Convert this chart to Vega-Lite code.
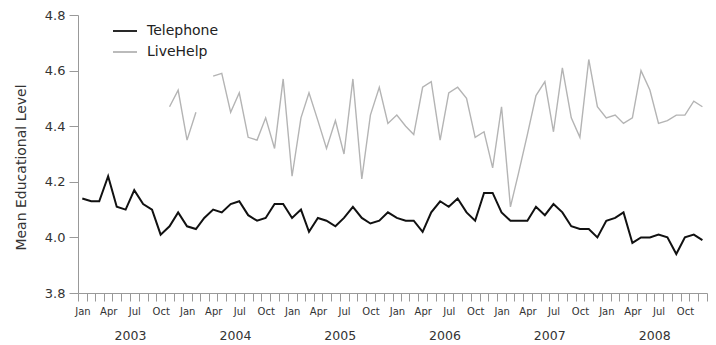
{
  "$schema": "https://vega.github.io/schema/vega-lite/v6.json",
  "width": 629,
  "height": 278,
  "autosize": "none",
  "padding": {"left": 78, "top": 15, "right": 9, "bottom": 52},
  "background": "white",
  "config": {
    "view": {"stroke": null},
    "font": "DejaVu Sans",
    "axis": {
      "grid": false,
      "domainColor": "#999999",
      "tickColor": "#999999",
      "labelColor": "#333333",
      "titleColor": "#333333",
      "labelFont": "DejaVu Sans",
      "titleFont": "DejaVu Sans"
    },
    "legend": {"labelFont": "DejaVu Sans"}
  },
  "datasets": {
    "series": [
      {"month": "2003-01-16", "mode": "Telephone", "value": 4.14},
      {"month": "2003-02-16", "mode": "Telephone", "value": 4.13},
      {"month": "2003-03-16", "mode": "Telephone", "value": 4.13},
      {"month": "2003-04-16", "mode": "Telephone", "value": 4.22},
      {"month": "2003-05-16", "mode": "Telephone", "value": 4.11},
      {"month": "2003-06-16", "mode": "Telephone", "value": 4.10},
      {"month": "2003-07-16", "mode": "Telephone", "value": 4.17},
      {"month": "2003-08-16", "mode": "Telephone", "value": 4.12},
      {"month": "2003-09-16", "mode": "Telephone", "value": 4.10},
      {"month": "2003-10-16", "mode": "Telephone", "value": 4.01},
      {"month": "2003-11-16", "mode": "Telephone", "value": 4.04},
      {"month": "2003-12-16", "mode": "Telephone", "value": 4.09},
      {"month": "2004-01-16", "mode": "Telephone", "value": 4.04},
      {"month": "2004-02-16", "mode": "Telephone", "value": 4.03},
      {"month": "2004-03-16", "mode": "Telephone", "value": 4.07},
      {"month": "2004-04-16", "mode": "Telephone", "value": 4.10},
      {"month": "2004-05-16", "mode": "Telephone", "value": 4.09},
      {"month": "2004-06-16", "mode": "Telephone", "value": 4.12},
      {"month": "2004-07-16", "mode": "Telephone", "value": 4.13},
      {"month": "2004-08-16", "mode": "Telephone", "value": 4.08},
      {"month": "2004-09-16", "mode": "Telephone", "value": 4.06},
      {"month": "2004-10-16", "mode": "Telephone", "value": 4.07},
      {"month": "2004-11-16", "mode": "Telephone", "value": 4.12},
      {"month": "2004-12-16", "mode": "Telephone", "value": 4.12},
      {"month": "2005-01-16", "mode": "Telephone", "value": 4.07},
      {"month": "2005-02-16", "mode": "Telephone", "value": 4.10},
      {"month": "2005-03-16", "mode": "Telephone", "value": 4.02},
      {"month": "2005-04-16", "mode": "Telephone", "value": 4.07},
      {"month": "2005-05-16", "mode": "Telephone", "value": 4.06},
      {"month": "2005-06-16", "mode": "Telephone", "value": 4.04},
      {"month": "2005-07-16", "mode": "Telephone", "value": 4.07},
      {"month": "2005-08-16", "mode": "Telephone", "value": 4.11},
      {"month": "2005-09-16", "mode": "Telephone", "value": 4.07},
      {"month": "2005-10-16", "mode": "Telephone", "value": 4.05},
      {"month": "2005-11-16", "mode": "Telephone", "value": 4.06},
      {"month": "2005-12-16", "mode": "Telephone", "value": 4.09},
      {"month": "2006-01-16", "mode": "Telephone", "value": 4.07},
      {"month": "2006-02-16", "mode": "Telephone", "value": 4.06},
      {"month": "2006-03-16", "mode": "Telephone", "value": 4.06},
      {"month": "2006-04-16", "mode": "Telephone", "value": 4.02},
      {"month": "2006-05-16", "mode": "Telephone", "value": 4.09},
      {"month": "2006-06-16", "mode": "Telephone", "value": 4.13},
      {"month": "2006-07-16", "mode": "Telephone", "value": 4.11},
      {"month": "2006-08-16", "mode": "Telephone", "value": 4.14},
      {"month": "2006-09-16", "mode": "Telephone", "value": 4.09},
      {"month": "2006-10-16", "mode": "Telephone", "value": 4.06},
      {"month": "2006-11-16", "mode": "Telephone", "value": 4.16},
      {"month": "2006-12-16", "mode": "Telephone", "value": 4.16},
      {"month": "2007-01-16", "mode": "Telephone", "value": 4.09},
      {"month": "2007-02-16", "mode": "Telephone", "value": 4.06},
      {"month": "2007-03-16", "mode": "Telephone", "value": 4.06},
      {"month": "2007-04-16", "mode": "Telephone", "value": 4.06},
      {"month": "2007-05-16", "mode": "Telephone", "value": 4.11},
      {"month": "2007-06-16", "mode": "Telephone", "value": 4.08},
      {"month": "2007-07-16", "mode": "Telephone", "value": 4.12},
      {"month": "2007-08-16", "mode": "Telephone", "value": 4.09},
      {"month": "2007-09-16", "mode": "Telephone", "value": 4.04},
      {"month": "2007-10-16", "mode": "Telephone", "value": 4.03},
      {"month": "2007-11-16", "mode": "Telephone", "value": 4.03},
      {"month": "2007-12-16", "mode": "Telephone", "value": 4.00},
      {"month": "2008-01-16", "mode": "Telephone", "value": 4.06},
      {"month": "2008-02-16", "mode": "Telephone", "value": 4.07},
      {"month": "2008-03-16", "mode": "Telephone", "value": 4.09},
      {"month": "2008-04-16", "mode": "Telephone", "value": 3.98},
      {"month": "2008-05-16", "mode": "Telephone", "value": 4.00},
      {"month": "2008-06-16", "mode": "Telephone", "value": 4.00},
      {"month": "2008-07-16", "mode": "Telephone", "value": 4.01},
      {"month": "2008-08-16", "mode": "Telephone", "value": 4.00},
      {"month": "2008-09-16", "mode": "Telephone", "value": 3.94},
      {"month": "2008-10-16", "mode": "Telephone", "value": 4.00},
      {"month": "2008-11-16", "mode": "Telephone", "value": 4.01},
      {"month": "2008-12-16", "mode": "Telephone", "value": 3.99},
      {"month": "2003-11-16", "mode": "LiveHelp", "value": 4.47},
      {"month": "2003-12-16", "mode": "LiveHelp", "value": 4.53},
      {"month": "2004-01-16", "mode": "LiveHelp", "value": 4.35},
      {"month": "2004-02-16", "mode": "LiveHelp", "value": 4.45},
      {"month": "2004-03-16", "mode": "LiveHelp", "value": null},
      {"month": "2004-04-16", "mode": "LiveHelp", "value": 4.58},
      {"month": "2004-05-16", "mode": "LiveHelp", "value": 4.59},
      {"month": "2004-06-16", "mode": "LiveHelp", "value": 4.45},
      {"month": "2004-07-16", "mode": "LiveHelp", "value": 4.52},
      {"month": "2004-08-16", "mode": "LiveHelp", "value": 4.36},
      {"month": "2004-09-16", "mode": "LiveHelp", "value": 4.35},
      {"month": "2004-10-16", "mode": "LiveHelp", "value": 4.43},
      {"month": "2004-11-16", "mode": "LiveHelp", "value": 4.32},
      {"month": "2004-12-16", "mode": "LiveHelp", "value": 4.57},
      {"month": "2005-01-16", "mode": "LiveHelp", "value": 4.22},
      {"month": "2005-02-16", "mode": "LiveHelp", "value": 4.43},
      {"month": "2005-03-16", "mode": "LiveHelp", "value": 4.52},
      {"month": "2005-04-16", "mode": "LiveHelp", "value": 4.42},
      {"month": "2005-05-16", "mode": "LiveHelp", "value": 4.32},
      {"month": "2005-06-16", "mode": "LiveHelp", "value": 4.42},
      {"month": "2005-07-16", "mode": "LiveHelp", "value": 4.30},
      {"month": "2005-08-16", "mode": "LiveHelp", "value": 4.57},
      {"month": "2005-09-16", "mode": "LiveHelp", "value": 4.21},
      {"month": "2005-10-16", "mode": "LiveHelp", "value": 4.44},
      {"month": "2005-11-16", "mode": "LiveHelp", "value": 4.54},
      {"month": "2005-12-16", "mode": "LiveHelp", "value": 4.41},
      {"month": "2006-01-16", "mode": "LiveHelp", "value": 4.44},
      {"month": "2006-02-16", "mode": "LiveHelp", "value": 4.40},
      {"month": "2006-03-16", "mode": "LiveHelp", "value": 4.37},
      {"month": "2006-04-16", "mode": "LiveHelp", "value": 4.54},
      {"month": "2006-05-16", "mode": "LiveHelp", "value": 4.56},
      {"month": "2006-06-16", "mode": "LiveHelp", "value": 4.35},
      {"month": "2006-07-16", "mode": "LiveHelp", "value": 4.52},
      {"month": "2006-08-16", "mode": "LiveHelp", "value": 4.54},
      {"month": "2006-09-16", "mode": "LiveHelp", "value": 4.50},
      {"month": "2006-10-16", "mode": "LiveHelp", "value": 4.36},
      {"month": "2006-11-16", "mode": "LiveHelp", "value": 4.38},
      {"month": "2006-12-16", "mode": "LiveHelp", "value": 4.25},
      {"month": "2007-01-16", "mode": "LiveHelp", "value": 4.47},
      {"month": "2007-02-16", "mode": "LiveHelp", "value": 4.11},
      {"month": "2007-03-16", "mode": "LiveHelp", "value": 4.23},
      {"month": "2007-04-16", "mode": "LiveHelp", "value": 4.37},
      {"month": "2007-05-16", "mode": "LiveHelp", "value": 4.51},
      {"month": "2007-06-16", "mode": "LiveHelp", "value": 4.56},
      {"month": "2007-07-16", "mode": "LiveHelp", "value": 4.38},
      {"month": "2007-08-16", "mode": "LiveHelp", "value": 4.61},
      {"month": "2007-09-16", "mode": "LiveHelp", "value": 4.43},
      {"month": "2007-10-16", "mode": "LiveHelp", "value": 4.36},
      {"month": "2007-11-16", "mode": "LiveHelp", "value": 4.64},
      {"month": "2007-12-16", "mode": "LiveHelp", "value": 4.47},
      {"month": "2008-01-16", "mode": "LiveHelp", "value": 4.43},
      {"month": "2008-02-16", "mode": "LiveHelp", "value": 4.44},
      {"month": "2008-03-16", "mode": "LiveHelp", "value": 4.41},
      {"month": "2008-04-16", "mode": "LiveHelp", "value": 4.43},
      {"month": "2008-05-16", "mode": "LiveHelp", "value": 4.60},
      {"month": "2008-06-16", "mode": "LiveHelp", "value": 4.53},
      {"month": "2008-07-16", "mode": "LiveHelp", "value": 4.41},
      {"month": "2008-08-16", "mode": "LiveHelp", "value": 4.42},
      {"month": "2008-09-16", "mode": "LiveHelp", "value": 4.44},
      {"month": "2008-10-16", "mode": "LiveHelp", "value": 4.44},
      {"month": "2008-11-16", "mode": "LiveHelp", "value": 4.49},
      {"month": "2008-12-16", "mode": "LiveHelp", "value": 4.47}
    ]
  },
  "data": {"name": "series"},
  "encoding": {
    "y": {
      "field": "value",
      "type": "quantitative",
      "scale": {"domain": [3.8, 4.8], "zero": false, "nice": false},
      "axis": {
        "title": "Mean Educational Level",
        "values": [3.8, 4.0, 4.2, 4.4, 4.6, 4.8],
        "format": ".1f",
        "tickSize": 9,
        "labelPadding": 4,
        "labelFontSize": 13,
        "titleFontSize": 14,
        "titleFontWeight": "normal",
        "titleAngle": -90,
        "titleX": -57,
        "titleY": 152,
        "titleAlign": "center",
        "titleBaseline": "middle"
      }
    },
    "color": {
      "field": "mode",
      "type": "nominal",
      "scale": {"domain": ["Telephone", "LiveHelp"], "range": ["#111111", "#b4b4b4"]},
      "legend": {
        "title": null,
        "orient": "none",
        "legendX": 34,
        "legendY": 3,
        "symbolType": "stroke",
        "symbolSize": 576,
        "symbolStrokeWidth": 1.8,
        "labelFontSize": 14,
        "labelColor": "#222222",
        "labelOffset": 9,
        "rowPadding": 1
      }
    }
  },
  "layer": [
    {
      "transform": [{"filter": "datum.mode === 'Telephone'"}],
      "mark": {"type": "line", "strokeWidth": 2, "invalid": "break-paths-show-domains"},
      "encoding": {
        "x": {
          "field": "month",
          "type": "temporal",
          "title": null,
          "scale": {"type": "utc", "domain": [1041379200000, 1230768000000]},
          "axis": {
            "orient": "bottom",
            "tickCount": {"interval": "month", "step": 1},
            "labelExpr": "utcmonth(datum.value) % 3 === 0 && utcyear(datum.value) < 2009 ? utcFormat(datum.value, '%b') : ''",
            "tickSize": 8,
            "labelPadding": 5,
            "labelFontSize": 10,
            "labelOffset": 4.4,
            "labelFlush": false,
            "labelOverlap": false,
            "labelBound": false
          }
        }
      }
    },
    {
      "transform": [{"filter": "datum.mode === 'LiveHelp'"}],
      "mark": {"type": "line", "strokeWidth": 1.4, "invalid": "break-paths-show-domains"},
      "encoding": {
        "x": {
          "field": "month",
          "type": "temporal",
          "title": null,
          "scale": {"type": "utc", "domain": [1041379200000, 1230768000000]},
          "axis": {
            "orient": "bottom",
            "values": [1057017600000, 1088640000000, 1120176000000, 1151712000000, 1183248000000, 1214870400000],
            "labelExpr": "utcFormat(datum.value, '%Y')",
            "ticks": false,
            "tickSize": 0,
            "domain": false,
            "labelPadding": 36,
            "labelFontSize": 12.5,
            "labelFlush": false,
            "labelOverlap": false
          }
        }
      }
    }
  ],
  "resolve": {"axis": {"x": "independent"}}
}
